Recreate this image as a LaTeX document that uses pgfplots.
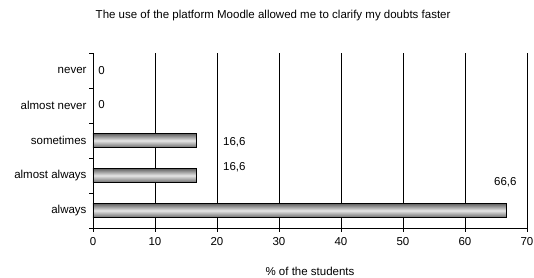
\documentclass[border=0pt]{standalone}
\usepackage{fontspec}
\setmainfont{Liberation Sans}
\usepackage{pgfplots}
\pgfplotsset{compat=1.18}
\newcommand{\lbl}{\fontsize{11.5bp}{13bp}\selectfont}
\pgfplotsset{mybar/.style={xbar, bar width=14bp, bar shift=0pt, draw=black, line width=0.8bp,
  top color=black!62, bottom color=black!58, middle color=black!10}}
\begin{document}
\begin{tikzpicture}
\path[use as bounding box] (-93bp,-50bp) rectangle (441bp,228bp);
\begin{axis}[
  at={(0,0)}, anchor=south west,
  scale only axis, width=434bp, height=175bp,
  xmin=0, xmax=70, ymin=-0.5, ymax=4.5,
  xtick={0,10,...,70},
  minor xtick={0,10,...,70},
  ytick={0,1,2,3,4},
  yticklabels={always, almost always, sometimes, almost never, never},
  minor ytick={-0.5,0.5,...,4.5},
  axis x line*=bottom, axis y line*=left,
  axis line style={black, line width=0.8bp, -},
  tick align=outside,
  major tick length=0bp, minor tick length=3.5bp,
  minor tick style={black, line width=0.8bp},
  xmajorgrids, grid style={black, line width=0.6bp},
  /pgf/number format/assume math mode=true,
  ticklabel style={font=\lbl},
  xticklabel style={yshift=-6bp},
  yticklabel style={xshift=-3bp},
  title={The use of the platform Moodle allowed me to clarify my doubts faster},
  title style={font=\lbl, at={(axis description cs:0.415,1)}, anchor=center, yshift=31bp},
  xlabel={\% of the students},
  xlabel style={font=\lbl, at={(axis description cs:0.5,0)}, anchor=center, yshift=-43.5bp},
]
\addplot[mybar] coordinates {(66.6,0)};
\addplot[mybar] coordinates {(16.6,1)};
\addplot[mybar] coordinates {(16.6,2)};
\addplot[mybar] coordinates {(0,3)};
\addplot[mybar] coordinates {(0,4)};
\node[font=\lbl] at (axis cs:66.5,0.81) {66,6};
\node[font=\lbl] at (axis cs:22.8,1.24) {16,6};
\node[font=\lbl] at (axis cs:22.8,1.94) {16,6};
\node[font=\lbl] at (axis cs:1.4,3.04) {0};
\node[font=\lbl] at (axis cs:1.4,3.99) {0};
\end{axis}
\end{tikzpicture}
\end{document}
